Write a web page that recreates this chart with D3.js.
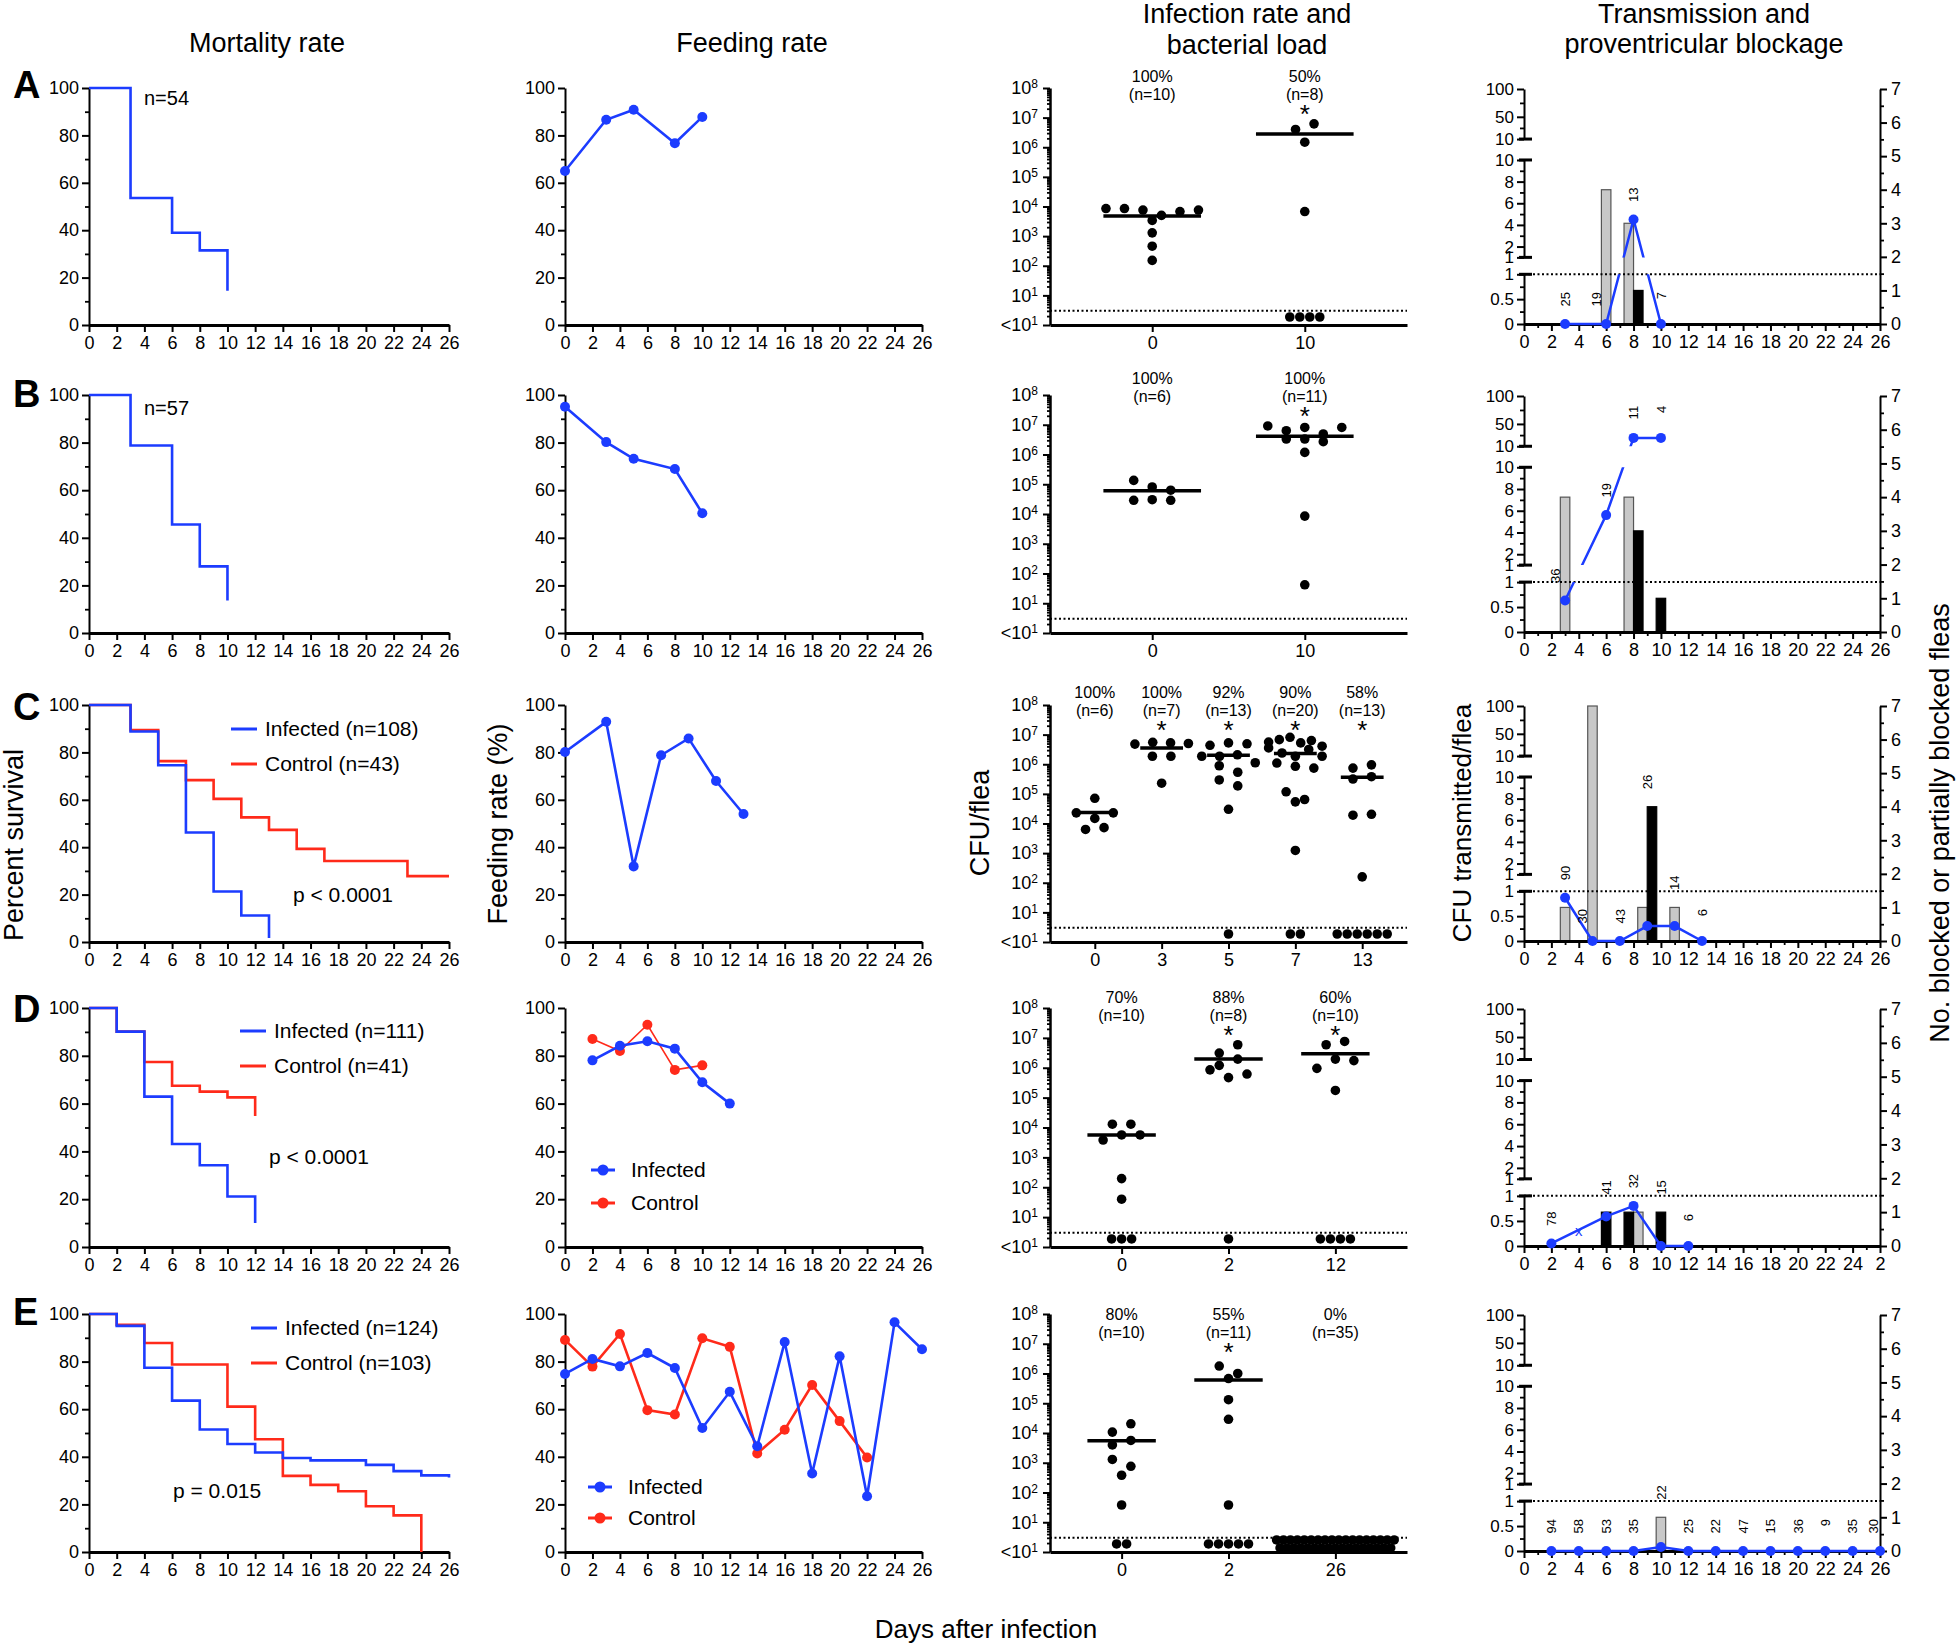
<!DOCTYPE html>
<html>
<head>
<meta charset="utf-8">
<style>
  body { margin: 0; background: #fff; }
  svg { display: block; }
</style>
</head>
<body>
<svg id="fig" width="1960" height="1648"></svg>
<script src="https://d3js.org/d3.v7.min.js"></script>
<script>
// colours used across the figure
const BLUE = "#1c3cff", RED = "#ff2a1a", GREY = "#c8c8c8";
const FONT = "'Liberation Sans', Arial, Helvetica, sans-serif";

// ---------------- data ----------------

// survival curves, [day, % surviving]
const survA_inf = [[0,100],[3,53.6],[6,38.9],[8,31.5],[10,14.4]];
const survB_inf = [[0,100],[3,78.8],[6,45.6],[8,28],[10,13.7]];
const survC_inf = [[0,100],[3,88.8],[5,74.6],[7,46.2],[9,21.3],[11,11.2],[13,1.7]];
const survC_ctl = [[0,100],[3,89.4],[5,76.3],[7,68.3],[9,60.4],[11,52.6],[13,47.3],[15,39.3],[17,34.2],[23,27.8],[26,27.8]];
const survD_inf = [[0,100],[2,90.1],[4,62.9],[6,43.1],[8,34.2],[10,21.1],[12,10]];
const survD_ctl = [[0,100],[2,90.1],[4,77.4],[6,67.5],[8,65],[10,62.6],[12,54.8]];
const survE_inf = [[0,100],[2,95],[4,77.4],[6,63.6],[8,51.5],[10,45.4],[12,41.8],[14,39.5],[16,38.5],[20,36.6],[22,34],[24,32.2],[26,31.3]];
const survE_ctl = [[0,100],[2,95.5],[4,87.8],[6,78.8],[10,61.1],[12,47.4],[14,32],[16,28.2],[18,25.5],[20,19.2],[22,15.4],[24,0]];
const survInfN = [54, 57, 108, 111, 124];
const survCtlN = [null, null, 43, 41, 103];
const survP = [null, null, "p < 0.0001", "p < 0.0001", "p = 0.015"];

// feeding rate (%)
const feedA_days = [0,3,5,8,10],   feedA_inf = [65,86.6,90.8,76.7,87.8];
const feedB_days = [0,3,5,8,10],   feedB_inf = [95.1,80.2,73.2,68.9,50.3];
const feedC_days = [0,3,5,7,9,11,13], feedC_inf = [80.2,92.9,31.9,78.8,85.9,67.9,54.0];
const feedD_days = [2,4,6,8,10,12], feedD_inf = [78.1,84.2,86.1,83.0,68.9,60.0];
const feedD_ctlDays = [2,4,6,8,10], feedD_ctl = [87,82,93,74.1,76];
const feedE_days = [0,2,4,6,8,10,12,14,16,18,20,22,24,26];
const feedE_inf = [74.8,81.1,78,83.6,77.3,52.1,67.3,44.4,88.2,33,82.2,23.4,96.5,85.2];
const feedE_ctlDays = [0,2,4,6,8,10,12,14,16,18,20,22];
const feedE_ctl = [89.1,77.9,91.6,59.6,57.8,89.8,86.2,41.4,51.4,70.2,55,39.7];

// infection: log10 CFU per flea (positives), count below detection, median
const infA_cats = ["0","10"], infA_pct = ["100%","50%"], infA_n = [10,8], infA_star = [0,1];
const infA_pos = [[3.93,3.93,3.88,3.70,3.83,3.88,3.53,3.11,2.66,2.18],[6.6,6.79,6.17,3.83]];
const infA_below = [0,4], infA_med = [3.68,6.45];

const infB_cats = ["0","10"], infB_pct = ["100%","100%"], infB_n = [6,11], infB_star = [0,1];
const infB_pos = [[5.13,4.91,4.80,4.46,4.48,4.46],[6.96,6.80,6.91,6.69,6.91,6.52,6.52,6.43,6.07,3.93,1.62]];
const infB_below = [0,0], infB_med = [4.78,6.61];

const infC_cats = ["0","3","5","7","13"], infC_pct = ["100%","100%","92%","90%","58%"];
const infC_n = [6,7,13,20,13], infC_star = [0,1,1,1,1];
const infC_pos = [
  [4.85,4.36,4.17,4.36,3.80,3.86],
  [6.68,6.74,6.72,6.70,6.27,6.27,5.36],
  [6.64,6.72,6.69,6.27,6.27,6.32,5.95,6.05,5.73,5.47,5.27,4.48],
  [6.75,6.83,6.91,6.72,6.8,6.61,6.55,6.38,6.27,6.5,6.27,6.04,5.93,5.87,5.07,4.73,4.81,3.09],
  [5.87,5.98,5.50,5.58,4.28,4.31,2.20]
];
const infC_below = [0,0,1,2,6], infC_med = [4.37,6.55,6.3,6.36,5.56];

const infD_cats = ["0","2","12"], infD_pct = ["70%","88%","60%"], infD_n = [10,8,10], infD_star = [0,1,1];
const infD_pos = [[4.11,4.11,3.58,3.75,3.75,2.29,1.60],[6.49,6.77,6.08,5.93,6.29,5.67,5.79],[6.77,6.88,5.98,6.29,6.24,5.24]];
const infD_below = [3,1,4], infD_med = [3.75,6.29,6.47];

const infE_cats = ["0","2","26"], infE_pct = ["80%","55%","0%"], infE_n = [10,11,35], infE_star = [0,1,0];
const infE_pos = [[4.03,4.31,3.6,3.75,3.11,2.88,2.58,1.58],[6.25,6.0,5.83,5.12,4.46,1.58],[]];
const infE_below = [2,5,35], infE_med = [3.74,5.78,null];

// transmission: CFU transmitted/flea (line), fleas tested (n), blocked counts (bars)
const trA_days = [3,6,8,10], trA_cfu = [0,0,4.5,0], trA_n = [25,19,13,7];
const trA_grey = [[6,4],[8,3]], trA_black = [[8,1]];
const trB_days = [3,6,8,10], trB_cfu = [0.63,5.6,25,25], trB_n = [36,19,11,4];
const trB_grey = [[3,4],[8,4]], trB_black = [[8,3],[10,1]];
const trC_days = [3,5,7,9,11,13], trC_cfu = [0.87,0,0,0.3,0.3,0], trC_n = [90,30,43,26,14,6];
const trC_grey = [[3,1],[5,7],[9,1],[11,1]], trC_black = [[9,4]];
const trD_days = [2,6,8,10,12], trD_cfu = [0.05,0.59,0.8,0,0], trD_n = [78,41,32,15,6];
const trD_grey = [[8,1]], trD_black = [[6,1],[8,1],[10,1]], trD_missing = [4];
const trE_days = [2,4,6,8,10,12,14,16,18,20,22,24,26];
const trE_cfu = [0,0,0,0,0.08,0,0,0,0,0,0,0,0];
const trE_n = [94,58,53,35,22,25,22,47,15,36,9,35,30];
const trE_grey = [[10,1]], trE_black = [];

// ---------------- layout ----------------
const rowLetters = ["A","B","C","D","E"];
const letterY = [98, 407, 720, 1022, 1325];
const rowTop = [88, 395, 705, 1008, 1314];
const rowBot = [325, 633, 942, 1247, 1552];
const mortX = [89, 449], feedX = [565, 922], infX = [1050, 1407], trX = [1524, 1880];
const infHeadShift = [0, -5, -1, 1, 12];

const svg = d3.select("#fig").attr("font-family", FONT);

function styleAxis(g, domainWidth, fs) {
  g.attr("font-family", FONT).attr("font-size", fs || 18);
  g.select(".domain").attr("stroke", "#000").attr("stroke-width", domainWidth);
  g.selectAll(".tick line").attr("stroke", "#000").attr("stroke-width", 2);
  g.selectAll(".tick text").attr("fill", "#000");
  return g;
}
function minorTicks(g, axis) {
  g.call(axis.tickFormat("").tickSizeOuter(0));
  g.select(".domain").remove();
  g.selectAll(".tick line").attr("stroke", "#000").attr("stroke-width", 1.8);
}

function percentAxes(r, x, y) {
  const gy = svg.append("g").attr("transform", `translate(${x.range()[0]},0)`);
  gy.call(d3.axisLeft(y).tickValues(d3.range(0, 101, 20)).tickSize(7).tickPadding(3).tickSizeOuter(0));
  styleAxis(gy, 2);
  minorTicks(svg.append("g").attr("transform", `translate(${x.range()[0]},0)`),
    d3.axisLeft(y).tickValues(d3.range(10, 100, 20)).tickSize(4));
  const gx = svg.append("g").attr("transform", `translate(0,${rowBot[r]})`);
  gx.call(d3.axisBottom(x).tickValues(d3.range(0, 27, 2)).tickSize(7).tickPadding(4).tickSizeOuter(0));
  styleAxis(gx, 3);
}

// ---------- mortality ----------
function drawSurvival(r, series, legend) {
  const x = d3.scaleLinear([0, 26], mortX);
  const y = d3.scaleLinear([0, 100], [rowBot[r], rowTop[r]]);
  percentAxes(r, x, y);
  const line = d3.line().x(d => x(d[0])).y(d => y(d[1])).curve(d3.curveStepAfter);
  series.forEach(s => svg.append("path").attr("d", line(s.data))
    .attr("fill", "none").attr("stroke", s.color).attr("stroke-width", 2.6));
  if (legend.note) {
    svg.append("text").attr("x", legend.x).attr("y", legend.y).attr("font-size", 20).text(legend.note);
  } else {
    legend.items.forEach((it, i) => {
      const ly = legend.ys[i];
      svg.append("line").attr("x1", legend.x).attr("x2", legend.x + 26).attr("y1", ly).attr("y2", ly)
        .attr("stroke", it.color).attr("stroke-width", 3);
      svg.append("text").attr("x", legend.x + 34).attr("y", ly).attr("dy", "0.35em")
        .attr("font-size", 21).text(it.label);
    });
    svg.append("text").attr("x", legend.px).attr("y", legend.py).attr("font-size", 21).text(legend.p);
  }
}

drawSurvival(0, [{ data: survA_inf, color: BLUE }], { note: `n=${survInfN[0]}`, x: 144, y: 105 });
drawSurvival(1, [{ data: survB_inf, color: BLUE }], { note: `n=${survInfN[1]}`, x: 144, y: 415 });
[[2, survC_inf, survC_ctl, 231, [729, 764], 293, 902],
 [3, survD_inf, survD_ctl, 240, [1031, 1066], 269, 1164],
 [4, survE_inf, survE_ctl, 251, [1328, 1363], 173, 1498]].forEach(([r, inf, ctl, lx, ys, px, py]) => {
  drawSurvival(r, [{ data: ctl, color: RED }, { data: inf, color: BLUE }], {
    x: lx, ys, px, py, p: survP[r],
    items: [{ label: `Infected (n=${survInfN[r]})`, color: BLUE }, { label: `Control (n=${survCtlN[r]})`, color: RED }]
  });
});

// ---------- feeding ----------
function drawFeeding(r, series, legendYs) {
  const x = d3.scaleLinear([0, 26], feedX);
  const y = d3.scaleLinear([0, 100], [rowBot[r], rowTop[r]]);
  percentAxes(r, x, y);
  series.forEach(s => {
    const pts = s.days.map((d, i) => [x(d), y(s.vals[i])]);
    svg.append("path").attr("d", d3.line()(pts)).attr("fill", "none")
      .attr("stroke", s.color).attr("stroke-width", s.width);
    svg.append("g").selectAll("circle").data(pts).join("circle")
      .attr("cx", p => p[0]).attr("cy", p => p[1]).attr("r", 5).attr("fill", s.color);
  });
  if (legendYs) {
    [["Infected", BLUE], ["Control", RED]].forEach(([lab, c], i) => {
      const ly = legendYs.ys[i], lx = legendYs.x;
      svg.append("line").attr("x1", lx).attr("x2", lx + 24).attr("y1", ly).attr("y2", ly)
        .attr("stroke", c).attr("stroke-width", 3);
      svg.append("circle").attr("cx", lx + 12).attr("cy", ly).attr("r", 5.5).attr("fill", c);
      svg.append("text").attr("x", lx + 40).attr("y", ly).attr("dy", "0.35em").attr("font-size", 21).text(lab);
    });
  }
}
drawFeeding(0, [{ days: feedA_days, vals: feedA_inf, color: BLUE, width: 2.6 }]);
drawFeeding(1, [{ days: feedB_days, vals: feedB_inf, color: BLUE, width: 2.6 }]);
drawFeeding(2, [{ days: feedC_days, vals: feedC_inf, color: BLUE, width: 2.6 }]);
drawFeeding(3, [{ days: feedD_ctlDays, vals: feedD_ctl, color: RED, width: 1.6 },
                { days: feedD_days, vals: feedD_inf, color: BLUE, width: 2.6 }], { x: 591, ys: [1170, 1203] });
drawFeeding(4, [{ days: feedE_ctlDays, vals: feedE_ctl, color: RED, width: 2.6 },
                { days: feedE_days, vals: feedE_inf, color: BLUE, width: 2.6 }], { x: 588, ys: [1487, 1518] });

// ---------- infection / bacterial load ----------
function swarm(vals, y, cx, maxW) {
  const pts = vals.map((v, i) => ({ v, i, y: y(10 ** v) }));
  const sorted = [...pts].sort((a, b) => a.y - b.y);
  const bands = [];
  let cur = null;
  sorted.forEach(p => {
    if (cur && p.y - cur[0].y < 10) cur.push(p);
    else { cur = [p]; bands.push(cur); }
  });
  bands.forEach(b => {
    b.sort((a, c) => a.i - c.i);
    const sp = b.length > 1 ? Math.min(18.5, maxW / (b.length - 1)) : 0;
    b.forEach((p, k) => { p.x = cx + (k - (b.length - 1) / 2) * sp; });
  });
  return pts;
}
function belowRow(n, cx, step, yb) {
  if (n <= 12) return d3.range(n).map(i => ({ x: cx + (i - (n - 1) / 2) * 10, y: yb }));
  const per = Math.ceil(n / 2), sp = Math.min(9.5, step * 1.1 / (per - 1));
  return d3.range(n).map(i => {
    const row = i < per ? 0 : 1, k = row ? i - per : i, cnt = row ? n - per : per;
    return { x: cx + (k - (cnt - 1) / 2) * sp, y: yb + (row ? 4 : -4) };
  });
}
function drawInfection(r, f) {
  const top = rowTop[r], bot = rowBot[r];
  const x = d3.scalePoint(f.cats, infX).padding(0.67);
  const y = d3.scaleLog([1, 1e8], [bot, top]);
  const step = x.step();

  svg.append("line").attr("x1", infX[0]).attr("x2", infX[1]).attr("y1", y(3)).attr("y2", y(3))
    .attr("stroke", "#000").attr("stroke-width", 2).attr("stroke-dasharray", "2,2.5");

  const gy = svg.append("g").attr("transform", `translate(${infX[0]},0)`);
  gy.call(d3.axisLeft(y).tickValues(d3.range(0, 9).map(k => 10 ** k)).tickSize(7).tickPadding(5).tickSizeOuter(0));
  styleAxis(gy, 2.5);
  gy.selectAll(".tick text").text(null).each(function (d) {
    const e = Math.round(Math.log10(d));
    const t = d3.select(this);
    t.append("tspan").text(e === 0 ? "<10" : "10");
    t.append("tspan").attr("dy", "-0.5em").attr("font-size", 12).text(e === 0 ? 1 : e);
  });
  const minors = [];
  for (let k = 0; k < 8; k++) for (let m = 2; m < 10; m++) minors.push(m * 10 ** k);
  minorTicks(svg.append("g").attr("transform", `translate(${infX[0]},0)`), d3.axisLeft(y).tickValues(minors).tickSize(3));

  const gx = svg.append("g").attr("transform", `translate(0,${bot})`);
  gx.call(d3.axisBottom(x).tickSize(7).tickPadding(4).tickSizeOuter(0));
  styleAxis(gx, 3);

  const sh = infHeadShift[r];
  f.cats.forEach((c, j) => {
    const cx = x(c);
    svg.append("text").attr("x", cx).attr("y", top - 6 + sh).attr("text-anchor", "middle").attr("font-size", 16).text(f.pct[j]);
    svg.append("text").attr("x", cx).attr("y", top + 12 + sh).attr("text-anchor", "middle").attr("font-size", 16).text(`(n=${f.n[j]})`);
    if (f.star[j]) svg.append("text").attr("x", cx).attr("y", top + 35 + sh).attr("text-anchor", "middle")
      .attr("font-size", 26).text("*");

    const pts = swarm(f.pos[j], y, cx, step * 0.8).concat(belowRow(f.below[j], cx, step, y(10 ** 0.27)));
    svg.append("g").selectAll("circle").data(pts).join("circle")
      .attr("cx", p => p.x).attr("cy", p => p.y).attr("r", 4.8).attr("fill", "#000");
    if (f.med[j] != null) {
      const ym = y(10 ** f.med[j]);
      svg.append("line").attr("x1", cx - step * 0.32).attr("x2", cx + step * 0.32).attr("y1", ym).attr("y2", ym)
        .attr("stroke", "#000").attr("stroke-width", 3.5);
    }
  });
}
drawInfection(0, { cats: infA_cats, pct: infA_pct, n: infA_n, star: infA_star, pos: infA_pos, below: infA_below, med: infA_med });
drawInfection(1, { cats: infB_cats, pct: infB_pct, n: infB_n, star: infB_star, pos: infB_pos, below: infB_below, med: infB_med });
drawInfection(2, { cats: infC_cats, pct: infC_pct, n: infC_n, star: infC_star, pos: infC_pos, below: infC_below, med: infC_med });
drawInfection(3, { cats: infD_cats, pct: infD_pct, n: infD_n, star: infD_star, pos: infD_pos, below: infD_below, med: infD_med });
drawInfection(4, { cats: infE_cats, pct: infE_pct, n: infE_n, star: infE_star, pos: infE_pos, below: infE_below, med: infE_med });

// ---------- transmission / blockage ----------
function drawTransmission(r, t) {
  const top = rowTop[r] + 1, bot = rowBot[r] - 1, h = bot - top;
  const x = d3.scaleLinear([0, 26], trX);
  const sBot = d3.scaleLinear([0, 1], [bot, bot - 0.2115 * h]);
  const sMid = d3.scaleLinear([1, 10], [bot - 0.2835 * h, bot - 0.698 * h]);
  const sTop = d3.scaleLinear([10, 100], [bot - 0.787 * h, top]);
  const yR = d3.scaleLinear([0, 7], [bot, top]);
  const yC = v => v <= 1 ? sBot(v) : v <= 10 ? sMid(v) : sTop(v);

  const bw = 9.5;
  const bars = t.grey.map(([day, n]) => ({ day, n, kind: "grey" }))
    .concat(t.black.map(([day, n]) => ({ day, n, kind: "black" })));
  bars.forEach(b => {
    const same = bars.filter(o => o.day === b.day);
    const first = t.order === "bg" ? "black" : "grey";
    b.x0 = same.length > 1 ? (b.kind === first ? x(b.day) - bw : x(b.day)) : x(b.day) - bw / 2;
  });
  svg.append("g").selectAll("rect").data(bars).join("rect")
    .attr("x", b => b.x0).attr("width", bw)
    .attr("y", b => yR(b.n)).attr("height", b => bot - yR(b.n))
    .attr("fill", b => b.kind === "grey" ? GREY : "#000")
    .attr("stroke", b => b.kind === "grey" ? "#555" : "#000").attr("stroke-width", 1.2);

  svg.append("line").attr("x1", trX[0]).attr("x2", trX[1]).attr("y1", sBot(1)).attr("y2", sBot(1))
    .attr("stroke", "#000").attr("stroke-width", 2).attr("stroke-dasharray", "2,2.5");

  // broken left axis
  [[sBot, [0, 0.5, 1], [0.25, 0.75]], [sMid, [1, 2, 4, 6, 8, 10], [3, 5, 7, 9]], [sTop, [10, 50, 100], [30, 75]]]
    .forEach(([s, major, minor]) => {
      const g = svg.append("g").attr("transform", `translate(${trX[0]},0)`);
      g.call(d3.axisLeft(s).tickValues(major).tickSize(7).tickPadding(3).tickSizeOuter(0).tickFormat(d3.format("")));
      styleAxis(g, 2, 17);
      minorTicks(svg.append("g").attr("transform", `translate(${trX[0]},0)`), d3.axisLeft(s).tickValues(minor).tickSize(4));
    });
  [sBot(1), sMid(1), sMid(10), sTop(10)].forEach(yy => svg.append("line")
    .attr("x1", trX[0] - 5).attr("x2", trX[0] + 8).attr("y1", yy).attr("y2", yy)
    .attr("stroke", "#000").attr("stroke-width", 3));

  const gr = svg.append("g").attr("transform", `translate(${trX[1]},0)`);
  gr.call(d3.axisRight(yR).tickValues(d3.range(0, 8)).tickSize(7).tickPadding(4).tickSizeOuter(0).tickFormat(d3.format("d")));
  styleAxis(gr, 2);
  minorTicks(svg.append("g").attr("transform", `translate(${trX[1]},0)`), d3.axisRight(yR).tickValues(d3.range(0.5, 7, 1)).tickSize(4));

  const gx = svg.append("g").attr("transform", `translate(0,${bot})`);
  gx.call(d3.axisBottom(x).tickValues(d3.range(0, 27, 2)).tickSize(7).tickPadding(4).tickSizeOuter(0)
    .tickFormat(d => (t.lastLabel && d === 26) ? t.lastLabel : d));
  styleAxis(gx, 3);
  minorTicks(svg.append("g").attr("transform", `translate(0,${bot})`), d3.axisBottom(x).tickValues(d3.range(1, 27, 2)).tickSize(4));

  // CFU line, hidden in the axis gaps
  const clipId = "segclip" + r;
  const cp = svg.append("clipPath").attr("id", clipId);
  [[sBot(1), bot + 8], [sMid(10), sMid(1)], [top - 8, sTop(10)]].forEach(([y0, y1]) =>
    cp.append("rect").attr("x", trX[0] - 10).attr("width", trX[1] - trX[0] + 20).attr("y", y0).attr("height", y1 - y0));
  const pts = t.days.map((d, i) => [x(d), yC(t.cfu[i])]);
  svg.append("path").attr("d", d3.line()(pts)).attr("fill", "none")
    .attr("stroke", BLUE).attr("stroke-width", 2.5).attr("clip-path", `url(#${clipId})`);
  svg.append("g").selectAll("circle").data(pts).join("circle")
    .attr("cx", p => p[0]).attr("cy", p => p[1]).attr("r", 5).attr("fill", BLUE);

  (t.missing || []).forEach(day => {
    const i = d3.bisectLeft(t.days, day);
    const a = pts[i - 1], b = pts[i], f = (x(day) - a[0]) / (b[0] - a[0]);
    svg.append("text").attr("x", x(day)).attr("y", a[1] + f * (b[1] - a[1]) + 6)
      .attr("text-anchor", "middle").attr("font-size", 15).attr("fill", BLUE).text("x");
  });

  // number of fleas tested, written vertically
  t.days.forEach((day, i) => {
    let ref = yC(t.cfu[i]);
    const tall = [];
    bars.filter(b => b.day === day).forEach(b => {
      if (b.kind === "black" || b.n <= 1) ref = Math.min(ref, yR(b.n));
      else tall.push(b);
    });
    let shift = tall.some(b => yR(b.n) < ref - 18) ? -10 : 0;
    if (day === 26) shift = -7;  // keep clear of the right-hand axis
    svg.append("text").attr("transform", `translate(${x(day) + shift + 4.7},${ref - 32}) rotate(-90)`)
      .attr("text-anchor", "end").attr("font-size", 13).text(t.n[i]);
  });
}
drawTransmission(0, { days: trA_days, cfu: trA_cfu, n: trA_n, grey: trA_grey, black: trA_black });
drawTransmission(1, { days: trB_days, cfu: trB_cfu, n: trB_n, grey: trB_grey, black: trB_black });
drawTransmission(2, { days: trC_days, cfu: trC_cfu, n: trC_n, grey: trC_grey, black: trC_black });
drawTransmission(3, { days: trD_days, cfu: trD_cfu, n: trD_n, grey: trD_grey, black: trD_black,
                      missing: trD_missing, order: "bg", lastLabel: "2" });
drawTransmission(4, { days: trE_days, cfu: trE_cfu, n: trE_n, grey: trE_grey, black: trE_black });

// ---------- titles and labels ----------
const titles = [
  { lines: ["Mortality rate"], x: 267, y: [52] },
  { lines: ["Feeding rate"], x: 752, y: [52] },
  { lines: ["Infection rate and", "bacterial load"], x: 1247, y: [23, 54] },
  { lines: ["Transmission and", "proventricular blockage"], x: 1704, y: [23, 53] }
];
titles.forEach(t => t.lines.forEach((l, i) =>
  svg.append("text").attr("x", t.x).attr("y", t.y[i]).attr("text-anchor", "middle").attr("font-size", 27).text(l)));

rowLetters.forEach((l, i) => svg.append("text").attr("x", 13).attr("y", letterY[i])
  .attr("font-size", 38).attr("font-weight", "bold").text(l));

[["Percent survival", 23, 845, 27], ["Feeding rate (%)", 507, 824, 27], ["CFU/flea", 989, 823, 27],
 ["CFU transmitted/flea", 1471, 823, 26], ["No. blocked or partially blocked fleas", 1949, 823, 27]]
  .forEach(([txt, x, y, fs]) => svg.append("text").attr("transform", `translate(${x},${y}) rotate(-90)`)
    .attr("text-anchor", "middle").attr("font-size", fs).text(txt));

svg.append("text").attr("x", 986).attr("y", 1638).attr("text-anchor", "middle").attr("font-size", 26)
  .text("Days after infection");
</script>
</body>
</html>
